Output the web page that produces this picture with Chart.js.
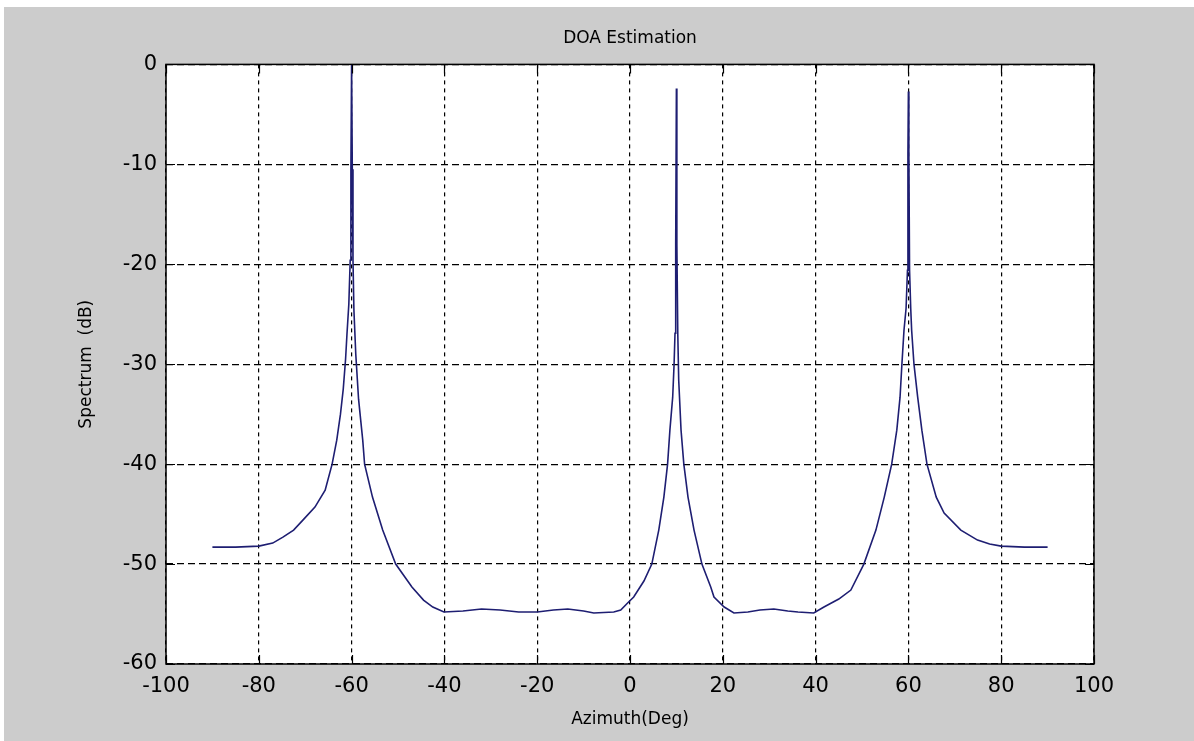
<!DOCTYPE html>
<html lang="en">
<head>
  <meta charset="UTF-8">
  <title>DOA Estimation</title>
  <script src="https://cdn.jsdelivr.net/npm/chart.js"></script>
  <style>
    html, body { margin: 0; padding: 0; background: #ffffff; }
    .wrap { position: absolute; left: 4px; top: 7px; width: 1190px; height: 734px; background: #cccccc; }
    canvas { display: block; }
  </style>
</head>
<body>
  <div class="wrap">
    <canvas id="doaChart" width="1190" height="734"></canvas>
  </div>

  <script>
    // spectrum (deg, dB)
    const azimuth = [
      -90, -85, -80, -77, -74.8, -72.5, -70.5, -67.9, -65.7, -64.2, -63.2, -62.4, -61.8, -61.3, -61.0,
      -60.6, -60.3, -60.15, -60.0, -59.85, -59.7, -59.5, -59.1, -58.5, -57.6, -57.2, -55.5, -53.3,
      -50.5, -47, -44.5, -42.5, -40.1, -36, -32, -28, -24, -20, -16.5, -13.4, -10, -7.8, -3.5, -2,
      -0.3, 0.8, 3, 4.7, 6.2, 7.3, 8.1, 8.6, 9.2, 9.5, 9.7, 9.85, 10.0, 10.1, 10.3, 10.5, 11, 11.6,
      12.5, 13.8, 15.5, 17.4, 18.1, 20.3, 22.4, 25.4, 28, 31, 34, 36.2, 39.6, 41.8, 45, 47.6, 50.4,
      53, 54.8, 56.4, 57.5, 58.2, 58.6, 59.05, 59.5, 59.8, 59.9, 60.0, 60.1, 60.25, 60.5, 60.7, 61.2,
      62, 62.9, 64, 66, 67.7, 71.3, 74.9, 77.5, 80, 85, 90
    ];
    const spectrum = [
      -48.3, -48.3, -48.2, -47.9, -47.3, -46.6, -45.6, -44.3, -42.6, -40, -37.6, -35, -32.5, -29.5, -27,
      -24, -19.6, -10.6, 0, -10.5, -19.6, -24.6, -29, -33.5, -37.6, -40, -43.3, -46.6,
      -50, -52.3, -53.6, -54.3, -54.8, -54.7, -54.5, -54.6, -54.8, -54.8, -54.6, -54.5, -54.7, -54.9, -54.8, -54.6,
      -53.8, -53.3, -51.7, -50, -46.6, -43.3, -40, -36.6, -33.3, -30, -26.9, -18, -2.4, -18, -27, -31.6, -36.6, -40,
      -43.3, -46.6, -50, -52.3, -53.3, -54.3, -54.9, -54.8, -54.6, -54.5, -54.7, -54.8, -54.9, -54.3, -53.5, -52.6, -50,
      -46.6, -43.3, -40, -36.6, -33.3, -30, -26.6, -24.4, -20.6, -8.9, -2.7, -8.9, -20.6, -24.4, -26.6, -30,
      -33.3, -36.6, -40, -43.3, -44.9, -46.6, -47.6, -48, -48.2, -48.3, -48.3
    ];
    const xTicks = [-100, -80, -60, -40, -20, 0, 20, 40, 60, 80, 100];
    const yTicks = [-60, -50, -40, -30, -20, -10, 0];

    const points = azimuth.map((a, i) => ({ x: a, y: spectrum[i] }));
    const fontFamily = '"DejaVu Sans", Verdana, sans-serif';

    // white axes box, black frame and inward tick marks like matlab
    const axesBox = {
      id: 'axesBox',
      beforeDraw(chart) {
        const { ctx, chartArea: a } = chart;
        ctx.save();
        ctx.fillStyle = '#ffffff';
        ctx.fillRect(a.left, a.top, a.right - a.left, a.bottom - a.top);
        ctx.restore();
      },
      afterDraw(chart) {
        const { ctx, chartArea: a, scales } = chart;
        ctx.save();
        ctx.strokeStyle = '#000000';
        ctx.lineWidth = 1.5;
        ctx.strokeRect(a.left, a.top, a.right - a.left, a.bottom - a.top);
        ctx.lineWidth = 1.2;
        ctx.beginPath();
        xTicks.forEach(v => {
          const px = Math.round(scales.x.getPixelForValue(v)) + 0.5;
          ctx.moveTo(px, a.bottom); ctx.lineTo(px, a.bottom - 9);
          ctx.moveTo(px, a.top); ctx.lineTo(px, a.top + 9);
        });
        yTicks.forEach(v => {
          const py = Math.round(scales.y.getPixelForValue(v)) + 0.5;
          ctx.moveTo(a.left, py); ctx.lineTo(a.left + 9, py);
          ctx.moveTo(a.right, py); ctx.lineTo(a.right - 9, py);
        });
        ctx.stroke();
        ctx.restore();
      }
    };

    const ctx = document.getElementById('doaChart').getContext('2d');
    new Chart(ctx, {
      type: 'scatter',
      data: {
        datasets: [{
          label: 'Spectrum',
          data: points,
          showLine: true,
          borderColor: '#1e1e72',
          borderWidth: 1.6,
          pointRadius: 0,
          tension: 0
        }]
      },
      options: {
        responsive: false,
        animation: false,
        layout: { padding: { left: 72, right: 100, top: 0, bottom: 11 } },
        plugins: {
          legend: { display: false },
          tooltip: { enabled: false },
          title: {
            display: true,
            text: 'DOA Estimation',
            fullSize: false,
            color: '#000000',
            font: { family: fontFamily, size: 17, weight: 'normal' },
            padding: { top: 21, bottom: 16 }
          }
        },
        scales: {
          x: {
            type: 'linear',
            min: -100,
            max: 100,
            afterBuildTicks: s => { s.ticks = xTicks.map(v => ({ value: v })); },
            afterFit: s => { s.height = 66; },
            grid: { color: '#000000', lineWidth: 1.2, drawTicks: false, borderDash: [4, 4] },
            border: { display: false, dash: [4, 4] },
            ticks: {
              color: '#000000',
              padding: 10,
              maxRotation: 0,
              font: { family: fontFamily, size: 21 }
            },
            title: {
              display: true,
              text: 'Azimuth(Deg)',
              color: '#000000',
              padding: 0,
              font: { family: fontFamily, size: 17 }
            }
          },
          y: {
            type: 'linear',
            min: -60,
            max: 0,
            afterBuildTicks: s => { s.ticks = yTicks.map(v => ({ value: v })); },
            afterFit: s => { s.width = 90; },
            grid: { color: '#000000', lineWidth: 1.2, drawTicks: false, borderDash: [7, 4] },
            border: { display: false, dash: [7, 4] },
            ticks: {
              color: '#000000',
              padding: 9,
              font: { family: fontFamily, size: 21 }
            },
            title: {
              display: true,
              text: 'Spectrum  (dB)',
              color: '#000000',
              padding: 0,
              font: { family: fontFamily, size: 17 }
            }
          }
        }
      },
      plugins: [axesBox]
    });
  </script>
</body>
</html>
